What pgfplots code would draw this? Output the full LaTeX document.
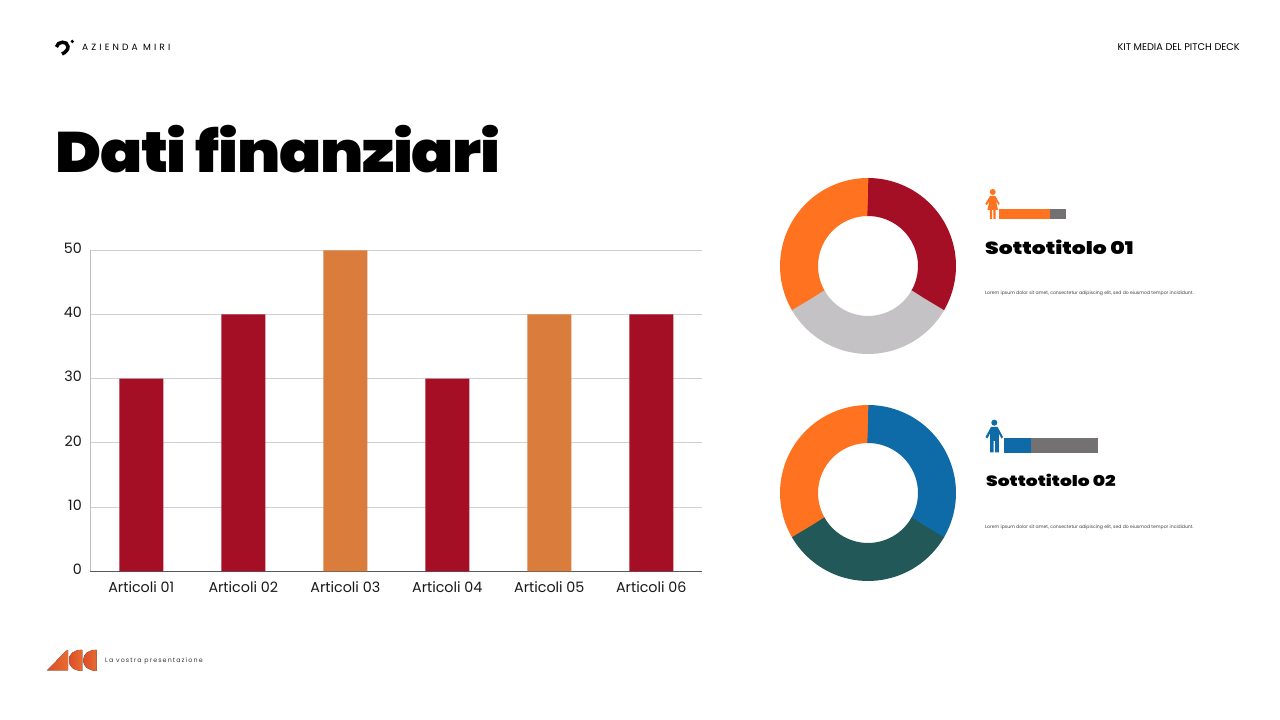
\documentclass[border=0pt]{standalone}
\usepackage{pgfplots}
\usepackage{pgfplotstable}
\usepackage{fontspec}
\pgfplotsset{compat=1.18}
\setmainfont{Poppins}
\newfontfamily\heavy{Poppins Black}[FakeStretch=1.09,LetterSpace=-2.3]
\newfontfamily\heavysub{Poppins Black}[FakeStretch=1.25]
\newfontfamily\spaced{Poppins}[LetterSpace=34]
\newfontfamily\spacedb{Poppins}[LetterSpace=18]
\definecolor{crim}{HTML}{A50F25}
\definecolor{barorange}{HTML}{DA7C3B}
\definecolor{dorange}{HTML}{FF7220}
\definecolor{dgrey}{HTML}{C4C2C4}
\definecolor{dblue}{HTML}{0E6BA8}
\definecolor{dteal}{HTML}{235858}
\definecolor{sgrey}{HTML}{747172}
\definecolor{logoa}{HTML}{DA4E27}
\definecolor{logob}{HTML}{E86C32}
\pgfplotstableread{
a r
90 69
89.9 69
85 69
80 69
75 69
70 69
65 69
60 69
55 69
50 69
45 69
40 69
35 69
30 69
25 69
20 69
15 69
10 69
5 69
0 69
-5 69
-10 69
-15 69
-20 69
-25 69
-30 69
-31 69
}\sliceA
\pgfplotstableread{
a r
-30 69
-30.1 69
-35 69
-40 69
-45 69
-50 69
-55 69
-60 69
-65 69
-70 69
-75 69
-80 69
-85 69
-90 69
-95 69
-100 69
-105 69
-110 69
-115 69
-120 69
-125 69
-130 69
-135 69
-140 69
-145 69
-149.9 69
-150 69
}\sliceB
\pgfplotstableread{
a r
-149 69
-150 69
-155 69
-160 69
-165 69
-170 69
-175 69
-180 69
-185 69
-190 69
-195 69
-200 69
-205 69
-210 69
-215 69
-220 69
-225 69
-230 69
-235 69
-240 69
-245 69
-250 69
-255 69
-260 69
-265 69
-270 69
-271 69
}\sliceC
\pgfplotsset{
  donut/.style={scale only axis,width=200pt,height=200pt,xmin=-100,xmax=100,ymin=-100,ymax=100,hide axis,anchor=center,clip=false},
  slice/.style={data cs=polar,no markers,line width=38pt,line cap=butt,line join=round},
  stackbar/.style={xbar stacked,scale only axis,hide axis,anchor=south west,ymin=-1,ymax=1,xmin=0,enlargelimits=false,clip=false},
}
\begin{document}
\begin{tikzpicture}
\fill[white] (0,0) rectangle (1280pt,720pt);
\path[use as bounding box] (0,0) rectangle (1280pt,720pt);

\begin{axis}[
  at={(90.3pt,148.7pt)},anchor=south west,scale only axis,width=612pt,height=321pt,
  xmin=-0.5,xmax=5.5,ymin=0,ymax=50,
  axis x line=bottom,axis y line=left,
  axis line style={-},
  x axis line style={draw=black!65,line width=0.8pt},
  y axis line style={draw=black!25,line width=1.4pt},
  xtick={0,1,2,3,4,5},
  xticklabels={Articoli 01,Articoli 02,Articoli 03,Articoli 04,Articoli 05,Articoli 06},
  ytick={0,10,20,30,40,50},
  major tick length=0pt,
  ymajorgrids,grid style={draw=black!18,line width=0.8pt},
  tick label style={font=\fontsize{14.3}{16}\selectfont,text=black!90},
  /pgf/number format/assume math mode=true,
  xticklabel style={yshift=-7pt},
  yticklabel style={xshift=-5pt,yshift=2pt},
  axis on top=false,
]
\addplot[ybar,bar width=44pt,fill=crim,draw=none] coordinates {(0,30)(1,40)(3,30)(5,40)};
\addplot[ybar,bar width=44pt,fill=barorange,draw=none] coordinates {(2,50)(4,40)};
\end{axis}

\begin{axis}[donut,at={(868pt,454pt)}]
\addplot[slice,draw=dorange] table[x=a,y=r]{\sliceC};
\addplot[slice,draw=crim] table[x=a,y=r]{\sliceA};
\addplot[slice,draw=dgrey] table[x=a,y=r]{\sliceB};
\end{axis}
\begin{axis}[donut,at={(868pt,227pt)}]
\addplot[slice,draw=dorange] table[x=a,y=r]{\sliceC};
\addplot[slice,draw=dblue] table[x=a,y=r]{\sliceA};
\addplot[slice,draw=dteal] table[x=a,y=r]{\sliceB};
\end{axis}

\begin{axis}[stackbar,at={(999.3pt,500.7pt)},width=66.7pt,height=10pt,xmax=66.7,bar width=10pt]
\addplot[fill=dorange,draw=none] coordinates {(50.7,0)};
\addplot[fill=sgrey,draw=none] coordinates {(16,0)};
\end{axis}
\begin{axis}[stackbar,at={(1004pt,267.3pt)},width=94pt,height=14.4pt,xmax=94,bar width=14.4pt]
\addplot[fill=dblue,draw=none] coordinates {(27,0)};
\addplot[fill=sgrey,draw=none] coordinates {(67,0)};
\end{axis}

\begin{scope}[x=1pt,y=-1pt,shift={(0pt,720pt)}]
% top logo
\draw[black,line width=3.5pt,line cap=butt] (56.4,47) .. controls (57.5,41) and (67.5,40.5) .. (68,46.5) .. controls (68.3,49.5) and (65.5,52.5) .. (62,54);
\fill[black] (72.3,41.5) circle (1.8);
\node[anchor=west,inner sep=0] at (82,47.5) {\spaced\fontsize{9.1}{11}\selectfont AZIENDA MIRI};
\node[anchor=east,inner sep=0] at (1240,47.5) {\fontsize{9.76}{12}\selectfont KIT MEDIA DEL PITCH DECK};
% title
\node[anchor=base west,inner sep=0] at (55,173) {\heavy\fontsize{57}{70}\selectfont Dati finanziari};
% subtitles
\node[anchor=base west,inner sep=0] at (985,255) {\heavysub\fontsize{17.5}{20}\selectfont Sottotitolo 01};
\node[anchor=base west,inner sep=0] at (986,487) {\heavysub\fontsize{14.9}{20}\selectfont Sottotitolo 02};
\node[anchor=west,inner sep=0,text=black!75] at (985,293.2) {\fontsize{4.6}{6}\selectfont Lorem ipsum dolor sit amet, consectetur adipiscing elit, sed do eiusmod tempor incididunt.};
\node[anchor=west,inner sep=0,text=black!75] at (985,527.2) {\fontsize{4.6}{6}\selectfont Lorem ipsum dolor sit amet, consectetur adipiscing elit, sed do eiusmod tempor incididunt.};
% girl icon
\fill[dorange] (992.7,192) circle (3);
\fill[dorange] (990,196) -- (995.4,196) -- (999.7,204) -- (998.6,205) -- (996,201) -- (998,210) -- (995.6,210) -- (995.6,219) -- (993.4,219) -- (993.4,210) -- (992,210) -- (992,219) -- (989.8,219) -- (989.8,210) -- (987.4,210) -- (989.4,201) -- (986.8,205) -- (985.2,204) -- cycle;
% man icon
\fill[dblue] (994.3,422.7) circle (3);
\fill[dblue] (991,427) -- (997.6,427) -- (1003,437) -- (1001.5,438.5) -- (998.8,433.5) -- (998.8,452.5) -- (995,452.5) -- (995,441) -- (993.6,441) -- (993.6,452.5) -- (990,452.5) -- (990,433.5) -- (987.3,438.5) -- (985.5,437) -- cycle;
% bottom logo
\fill[left color=logoa,right color=logob] (47,670.5) -- (65.5,651.5) .. controls (66.5,650.5) and (68.2,649.8) .. (68.2,649.8) -- (68.2,670.5) -- cycle;
\fill[left color=logoa,right color=logob] (82.3,649.8) .. controls (73,650) and (69,654) .. (69,660.3) .. controls (69,666.5) and (73,670.5) .. (82.3,671) -- cycle;
\fill[left color=logoa,right color=logob] (96.7,649.8) .. controls (88,650) and (83.2,654) .. (83.2,660.3) .. controls (83.2,666.5) and (88,670.5) .. (96.7,671) -- cycle;
\node[anchor=west,inner sep=0,text=black!80] at (105,661) {\spacedb\fontsize{6.3}{8}\selectfont La vostra presentazione};
\end{scope}
\end{tikzpicture}
\end{document}
